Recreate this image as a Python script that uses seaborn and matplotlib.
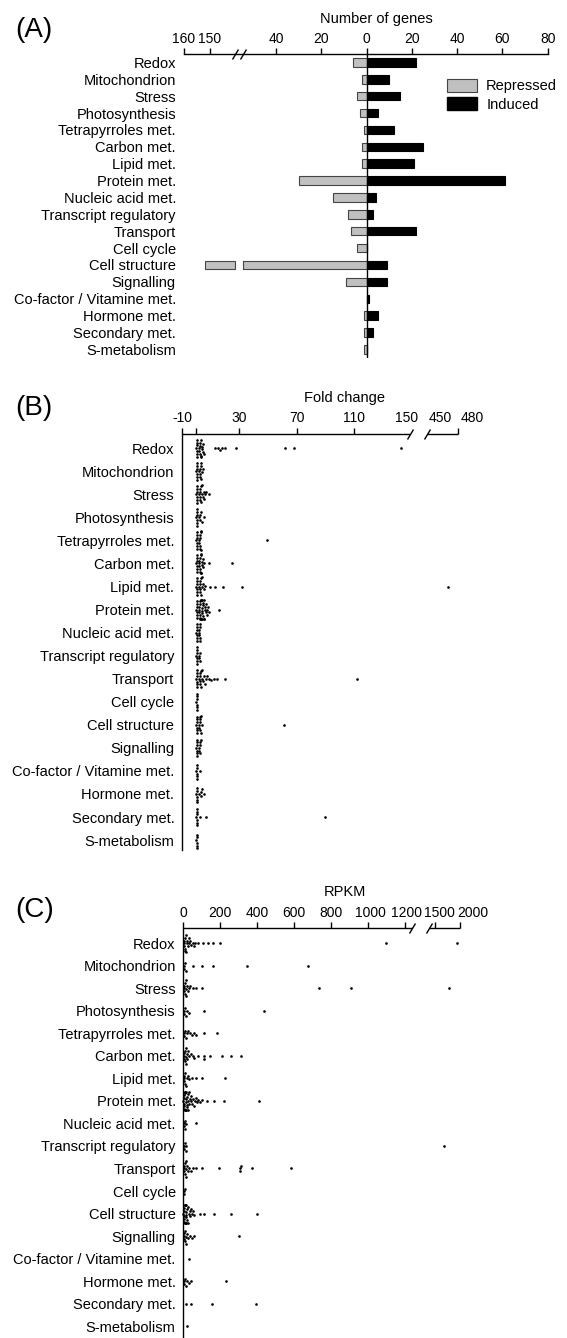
import warnings
import numpy as np
import pandas as pd
import matplotlib
matplotlib.use("Agg")
import matplotlib.pyplot as plt
import matplotlib.patches as mpatches
from matplotlib.markers import MarkerStyle
from matplotlib.transforms import Affine2D, ScaledTranslation
import seaborn as sns

warnings.filterwarnings("ignore")

# ---------------- data ----------------
CATEGORIES = ["Redox", "Mitochondrion", "Stress", "Photosynthesis",
              "Tetrapyrroles met.", "Carbon met.", "Lipid met.", "Protein met.",
              "Nucleic acid met.", "Transcript regulatory", "Transport",
              "Cell cycle", "Cell structure", "Signalling",
              "Co-factor / Vitamine met.", "Hormone met.", "Secondary met.",
              "S-metabolism"]

REPRESSED = [6, 2, 4, 3, 1, 2, 2, 30, 15, 8, 7, 4, 152, 9, 0, 1, 1, 1]
INDUCED = [22, 10, 15, 5, 12, 25, 21, 61, 4, 3, 22, 0, 9, 9, 1, 5, 3, 0]

# (B) fold change per category
FC_REDOX = [0.1, 0.2, 0.3, 0.4, 0.5, 0.6, 0.7, 2.1, 2.4, 2.7, 3.0, 3.2, 3.5, 3.8, 4.1, 4.4, 4.8, 5.3, 2.2, 2.9,
            13.0, 15.2, 16.5, 17.8, 20.0, 28.0, 62.0, 68.0, 143.0]
FC_MITO = [0.1, 0.2, 0.3, 0.4, 0.5, 0.6, 0.7, 2.2, 2.5, 2.8, 3.1, 3.5, 4.0, 4.6, 2.4, 3.3]
FC_STRESS = [0.1, 0.2, 0.3, 0.4, 0.5, 0.6, 0.7, 2.0, 2.3, 2.6, 2.9, 3.2, 3.6, 4.0, 4.5, 5.0, 5.6, 6.3, 7.0,
             8.8, 2.4, 3.4]
FC_PHOTO = [0.1, 0.2, 0.3, 0.4, 0.5, 0.6, 0.7, 2.1, 2.5, 3.0, 3.6, 5.0, 2.3]
FC_TETRA = [0.1, 0.2, 0.3, 0.4, 0.5, 0.6, 0.7, 2.0, 2.3, 2.6, 2.9, 3.2, 3.5, 2.2, 2.7, 3.0, 49.5]
FC_CARBON = [0.1, 0.2, 0.3, 0.4, 0.5, 0.6, 0.7, 2.0, 2.2, 2.5, 2.8, 3.1, 3.4, 3.7, 4.0, 4.4, 4.9, 5.5, 2.1,
             2.6, 3.0, 3.3, 9.0, 24.6]
FC_LIPID = [0.1, 0.2, 0.3, 0.4, 0.5, 0.6, 0.7, 2.0, 2.3, 2.6, 2.9, 3.3, 3.7, 4.2, 4.8, 5.5, 6.3, 2.4, 3.0,
            9.5, 13.0, 18.8, 31.7, 463.0]
FC_PROTEIN = [0.1, 0.2, 0.3, 0.4, 0.5, 0.6, 0.7, 2.0, 2.2, 2.4, 2.6, 2.8, 3.0, 3.2, 3.4, 3.6, 3.8, 4.0, 4.2,
              4.5, 4.8, 5.1, 5.4, 5.7, 6.0, 6.4, 6.8, 7.2, 7.6, 8.0, 8.5, 2.1, 2.5, 2.9, 3.3, 3.7, 4.4,
              5.0, 15.5]
FC_NUCLEIC = [0.1, 0.2, 0.3, 0.4, 0.5, 0.6, 0.7, 2.0, 2.2, 2.4, 2.6, 2.9, 2.1, 2.5]
FC_TRANSCRIPT = [0.1, 0.2, 0.3, 0.4, 0.5, 0.6, 0.7, 2.0, 2.3, 2.6, 2.2]
FC_TRANSPORT = [0.1, 0.2, 0.3, 0.4, 0.5, 0.6, 0.7, 2.0, 2.3, 2.6, 2.9, 3.2, 3.6, 4.0, 4.5, 5.0, 5.7, 6.5,
                7.5, 8.8, 10.5, 12.5, 14.5, 2.4, 3.0, 19.8, 112.0]
FC_CELLCYCLE = [0.1, 0.2, 0.3, 0.4, 0.5, 0.6, 0.7]
FC_CELLSTRUCT = [0.1, 0.2, 0.3, 0.4, 0.5, 0.6, 0.7, 2.0, 2.3, 2.6, 3.0, 3.5, 4.0, 2.2, 2.8, 2.4, 61.0]
FC_SIGNAL = [0.1, 0.2, 0.3, 0.4, 0.5, 0.6, 0.7, 2.0, 2.3, 2.6, 3.0, 2.2, 2.8]
FC_COFACTOR = [0.1, 0.2, 0.3, 0.4, 0.5, 0.6, 2.4]
FC_HORMONE = [0.1, 0.2, 0.3, 0.4, 0.5, 0.6, 2.2, 3.0, 4.0, 5.5, 3.4]
FC_SECONDARY = [0.1, 0.2, 0.3, 0.4, 0.5, 0.6, 0.7, 2.8, 6.8, 89.4]
FC_SMET = [0.1, 0.2, 0.3, 0.4, 0.5, 0.6]

# (C) RPKM per category
RP_REDOX = [2, 4, 5, 7, 9, 11, 13, 15, 18, 21, 25, 29, 33, 38, 44, 50, 57, 65, 81, 108, 135, 159, 199,
            1097, 1946]
RP_MITO = [3, 6, 10, 15, 51, 100, 159, 347, 678]
RP_STRESS = [2, 4, 6, 8, 10, 12, 14, 16, 20, 25, 31, 38, 52, 71, 100, 733, 908, 1780]
RP_PHOTO = [3, 6, 10, 15, 21, 30, 110, 440]
RP_TETRA = [3, 6, 10, 15, 21, 28, 36, 48, 60, 71, 110, 180]
RP_CARBON = [2, 4, 6, 8, 10, 12, 14, 16, 18, 22, 27, 33, 40, 50, 60, 80, 110, 112, 146, 209, 258, 311]
RP_LIPID = [2, 4, 6, 8, 10, 14, 19, 25, 33, 45, 71, 100, 224]
RP_PROTEIN = [1, 2, 3, 4, 5, 6, 7, 8, 9, 10, 11, 12, 13, 14, 15, 16, 18, 20, 22, 24, 26, 28, 30, 33, 36,
              40, 44, 48, 52, 57, 62, 68, 75, 82, 90, 100, 128, 169, 223, 410]
RP_NUCLEIC = [2, 4, 7, 11, 16, 67]
RP_TRANSCRIPT = [2, 5, 8, 12, 17, 1672]
RP_TRANSPORT = [2, 4, 6, 8, 10, 12, 14, 16, 20, 26, 33, 42, 55, 71, 100, 195, 305, 308, 311, 374, 583]
RP_CELLCYCLE = [3, 6, 10]
RP_CELLSTRUCT = [1, 2, 3, 4, 5, 6, 7, 8, 9, 10, 11, 12, 13, 14, 15, 16, 17, 19, 21, 24, 27, 30, 34, 38,
                 43, 48, 54, 60, 90, 110, 169, 258, 402]
RP_SIGNAL = [2, 4, 6, 8, 10, 12, 16, 21, 27, 34, 45, 60, 301]
RP_COFACTOR = [31]
RP_HORMONE = [3, 6, 10, 15, 22, 30, 40, 232]
RP_SECONDARY = [12, 42, 154, 392]
RP_SMET = [22]

A_TICKS = [-160, -150, -40, -20, 0, 20, 40, 60, 80]
A_TICK_LABELS = ["160", "150", "40", "20", "0", "20", "40", "60", "80"]
B_TICKS = [-10, 0, 30, 70, 110, 150, 450, 480]
B_TICK_LABELS = ["-10", "", "30", "70", "110", "150", "450", "480"]
C_TICKS = [0, 200, 400, 600, 800, 1000, 1200, 1500, 2000]
C_TICK_LABELS = ["0", "200", "400", "600", "800", "1000", "1200", "1500", "2000"]

FC_LISTS = [FC_REDOX, FC_MITO, FC_STRESS, FC_PHOTO, FC_TETRA, FC_CARBON, FC_LIPID, FC_PROTEIN,
            FC_NUCLEIC, FC_TRANSCRIPT, FC_TRANSPORT, FC_CELLCYCLE, FC_CELLSTRUCT, FC_SIGNAL,
            FC_COFACTOR, FC_HORMONE, FC_SECONDARY, FC_SMET]
RP_LISTS = [RP_REDOX, RP_MITO, RP_STRESS, RP_PHOTO, RP_TETRA, RP_CARBON, RP_LIPID, RP_PROTEIN,
            RP_NUCLEIC, RP_TRANSCRIPT, RP_TRANSPORT, RP_CELLCYCLE, RP_CELLSTRUCT, RP_SIGNAL,
            RP_COFACTOR, RP_HORMONE, RP_SECONDARY, RP_SMET]

# ---------------- style ----------------
sns.set_theme(style="white")
plt.rcParams["font.family"] = ["Liberation Sans", "DejaVu Sans"]
plt.rcParams["text.color"] = "black"
plt.rcParams["axes.edgecolor"] = "black"
plt.rcParams["xtick.color"] = "black"
plt.rcParams["ytick.color"] = "black"
plt.rcParams["axes.labelcolor"] = "black"

FS = 10.5
TFS = 10
W, H = 567, 1338
GRAY = "#c0c0c0"
EDGE = "#444444"
DOT = 1.9


def rect(left, right, top, bottom):
    return [left / W, 1 - bottom / H, (right - left) / W, (bottom - top) / H]


def broken_scale(data_knots, px_knots):
    d = np.asarray(data_knots, float)
    p = np.asarray(px_knots, float)
    s0 = (p[1] - p[0]) / (d[1] - d[0])
    s1 = (p[-1] - p[-2]) / (d[-1] - d[-2])
    big = 1e6
    d = np.concatenate([[d[0] - big], d, [d[-1] + big]])
    p = np.concatenate([[p[0] - big * s0], p, [p[-1] + big * s1]])

    def fwd(x):
        return np.interp(np.asarray(x, float), d, p)

    def inv(y):
        return np.interp(np.asarray(y, float), p, d)
    return fwd, inv


SLASH = MarkerStyle("|", transform=Affine2D().rotate_deg(-35))


def style_top_axis(ax, ticks, labels, shifts=None):
    ax.xaxis.tick_top()
    ax.set_xticks(ticks)
    ax.set_xticklabels(labels)
    ax.tick_params(axis="x", direction="out", length=4, width=1, pad=2, labelsize=TFS)
    ax.tick_params(axis="y", length=0, pad=5.5, labelsize=FS)
    ax.set_xlabel("")
    ax.set_ylabel("")
    ax.grid(False)
    if shifts:
        tk = ax.xaxis.get_major_ticks()
        for i, dx in shifts.items():
            lab = tk[i].label2
            lab.set_transform(lab.get_transform() + ScaledTranslation(dx / 100, 0, fig.dpi_scale_trans))


fig = plt.figure(figsize=(W / 100, H / 100), dpi=100)

# ---------------- (A) ----------------
axA = fig.add_axes(rect(183.6, 547.7, 54.0, 358.3))
axA.set_xscale("function", functions=broken_scale([-160, -139, -56.3, 80], [183.6, 238.6, 239.0, 547.7]))
dfA = pd.DataFrame({"category": CATEGORIES,
                    "repressed": [-v for v in REPRESSED],
                    "induced": INDUCED})
sns.barplot(data=dfA, x="repressed", y="category", order=CATEGORIES, orient="h", color=GRAY,
            edgecolor=EDGE, linewidth=0.8, width=0.5, saturation=1, errorbar=None, ax=axA)
sns.barplot(data=dfA, x="induced", y="category", order=CATEGORIES, orient="h", color="black",
            edgecolor="black", linewidth=0.8, width=0.5, saturation=1, errorbar=None, ax=axA)
axA.set_xlim(-160, 80)
axA.set_ylim(17.53, -0.5)
axA.axvline(0, color="black", lw=1.0, zorder=6)
for s in ["left", "right", "bottom"]:
    axA.spines[s].set_visible(False)
axA.spines["top"].set_linewidth(1.0)
style_top_axis(axA, A_TICKS, A_TICK_LABELS)
# gap in the broken Cell structure bar
cs = CATEGORIES.index("Cell structure")
axA.add_patch(mpatches.Rectangle((-140.4, cs - 0.4), 85.7, 0.8, facecolor="white", edgecolor="none", zorder=5))
for xg in (-140.4, -54.7):
    axA.plot([xg, xg], [cs - 0.25, cs + 0.25], color=EDGE, lw=0.8, zorder=6)
axA.plot([-140.4, -54.7], [1, 1], transform=axA.get_xaxis_transform(), marker=SLASH, markersize=8,
         linestyle="none", color="black", mew=1.0, clip_on=False, zorder=7)
axA.legend(handles=[mpatches.Patch(facecolor=GRAY, edgecolor=EDGE, linewidth=0.8, label="Repressed"),
                    mpatches.Patch(facecolor="black", edgecolor="black", label="Induced")],
           loc="upper left", bbox_to_anchor=(0.7248, 0.918), frameon=False, borderpad=0,
           borderaxespad=0, handlelength=2.0, handleheight=1.0, handletextpad=0.65,
           labelspacing=0.25, fontsize=FS)


def dot_panel(box, knots_d, knots_p, lists, xlim, ylim, ticks, labels, gap, hide_ticks=(), shifts=None):
    ax = fig.add_axes(box)
    ax.set_xscale("function", functions=broken_scale(knots_d, knots_p))
    df = pd.DataFrame({"category": np.repeat(CATEGORIES, [len(l) for l in lists]),
                       "value": np.concatenate([np.asarray(l, float) for l in lists])})
    sns.swarmplot(data=df, x="value", y="category", order=CATEGORIES, orient="h", color="black",
                  size=DOT, linewidth=0, ax=ax, warn_thresh=1)
    for coll in ax.collections:
        coll.set_clip_on(False)
    ax.set_xlim(*xlim)
    ax.set_ylim(*ylim)
    for s in ["top", "right", "bottom"]:
        ax.spines[s].set_visible(False)
    ax.spines["left"].set_linewidth(1.0)
    style_top_axis(ax, ticks, labels, shifts)
    xt = ax.get_xaxis_transform()
    ax.plot([xlim[0], gap[0]], [1, 1], transform=xt, color="black", lw=1.0, clip_on=False,
            solid_capstyle="butt")
    ax.plot([gap[1], xlim[1]], [1, 1], transform=xt, color="black", lw=1.0, clip_on=False,
            solid_capstyle="butt")
    ax.plot(list(gap), [1, 1], transform=xt, marker=SLASH, markersize=8, linestyle="none",
            color="black", mew=1.0, clip_on=False)
    ticks_objs = ax.xaxis.get_major_ticks()
    for i in hide_ticks:
        ticks_objs[i].tick2line.set_visible(False)
    return ax


axB = dot_panel(rect(182, 458.3, 433.5, 850), [-10, 149, 428, 480], [182, 410, 426.7, 458.3],
                FC_LISTS, (-10, 480), (17.43, -0.64), B_TICKS, B_TICK_LABELS, (149, 428),
                hide_ticks=(5, 6), shifts={5: -3, 7: 14})
axC = dot_panel(rect(183.3, 460, 928.3, 1338), [0, 1240, 1380, 2000], [183.3, 412.1, 429, 460],
                RP_LISTS, (0, 2000), (17.53, -0.67), C_TICKS, C_TICK_LABELS, (1240, 1380),
                shifts={5: 3, 6: 2, 7: 4, 8: 13})

# ---------------- titles & panel letters ----------------
fig.text(376 / W, 1 - 19.3 / H, "Number of genes", ha="center", va="center", fontsize=FS)
fig.text(345 / W, 1 - 398.3 / H, "Fold change", ha="center", va="center", fontsize=FS)
fig.text(345 / W, 1 - 891.5 / H, "RPKM", ha="center", va="center", fontsize=FS)
for lab, y in (("(A)", 30), ("(B)", 408), ("(C)", 910)):
    fig.text(15 / W, 1 - y / H, lab, ha="left", va="center", fontsize=20)

fig.savefig("out.png", dpi=100)
